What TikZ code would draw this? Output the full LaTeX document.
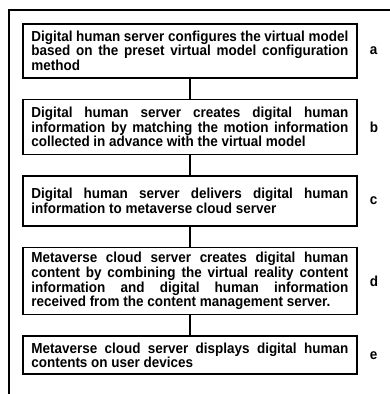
\documentclass[tikz,border=0pt]{standalone}
\usepackage{fontspec}
\setmainfont{Liberation Sans}[FakeStretch=0.93]
\usetikzlibrary{positioning}
\tolerance=10000 \hbadness=10000
\tikzset{
  stepbox/.style={draw, line width=1.6pt, text width=317pt, inner xsep=8.5pt,
    inner ysep=0pt, align=justify, font=\bfseries\fontsize{14.5}{14.6}\selectfont},
  tag/.style={inner sep=0pt, font=\bfseries\fontsize{14.5}{14.6}\selectfont},
  link/.style={line width=2pt}
}
\begin{document}
\begin{tikzpicture}[x=1pt,y=1pt]
  \useasboundingbox (0,0) rectangle (390,-394);
  % open frame round the chart
  \draw[line width=1.4pt] (390,-10) -- (9,-10) -- (9,-394);
  % the five steps
  \node[stepbox, minimum height=54pt, anchor=north west] (a) at (22,-23)
    {Digital human server configures the virtual model\linebreak
     based on the preset virtual model configuration\linebreak method};
  \node[stepbox, minimum height=55pt, below=20pt of a] (b)
    {Digital human server creates digital human\linebreak
     information by matching the motion information\linebreak
     collected in advance with the virtual model};
  \node[stepbox, minimum height=50pt, below=20pt of b] (c)
    {Digital human server delivers digital human\linebreak
     information to metaverse cloud server};
  \node[stepbox, minimum height=67pt, below=20pt of c] (d)
    {Metaverse cloud server creates digital human\linebreak
     content by combining the virtual reality content\linebreak
     information and digital human information\linebreak
     received from the content management server.};
  \node[stepbox, minimum height=38pt, below=20pt of d] (e)
    {Metaverse cloud server displays digital human\linebreak
     contents on user devices};
  \foreach \s/\t in {a/b,b/c,c/d,d/e}
    \draw[link] (\s) -- (\t);
  % step letters
  \foreach \s in {a,b,c,d,e}
    \node[tag, right=12pt of \s] (tag\s) {\s};
\end{tikzpicture}
\end{document}
